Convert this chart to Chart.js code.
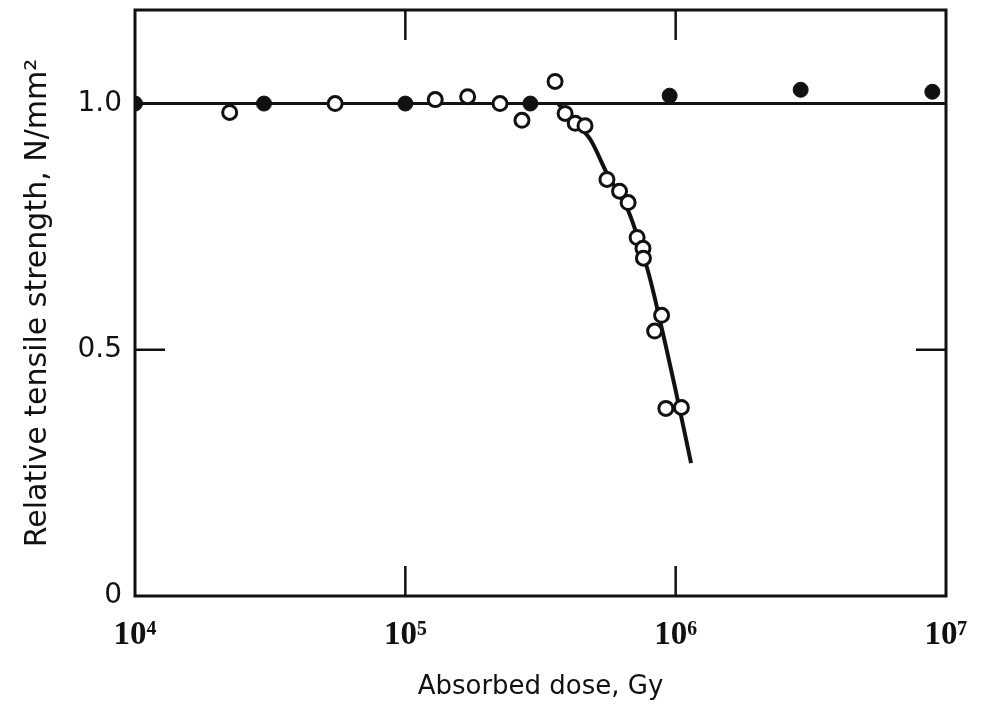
<!DOCTYPE html>
<html>
<head>
<meta charset="utf-8">
<script src="https://cdn.jsdelivr.net/npm/chart.js@4/dist/chart.umd.min.js"></script>
<style>
  body { margin: 0; background: #fff; }
  canvas { display: block; }
</style>
</head>
<body>
<canvas id="doseChart" width="991" height="715"></canvas>
<script>
// dose axis ticks and strength ticks
const doseTicks = [1e4, 1e5, 1e6, 1e7];
const doseTickLabels = ['10\u2074', '10\u2075', '10\u2076', '10\u2077'];
const strengthTicks = [0, 0.5, 1.0];
const strengthTickLabels = ['0', '0.5', '1.0'];

// closed circles
const filledDose = [1e4, 3.0e4, 1e5, 2.9e5, 9.5e5, 2.9e6, 8.9e6];
const filledStrength = [1.0, 1.0, 1.0, 1.0, 1.016, 1.028, 1.024];

// open circles
const openDose = [2.24e4, 5.5e4, 1.29e5, 1.7e5, 2.24e5, 2.7e5, 3.58e5, 3.9e5, 4.25e5, 4.62e5,
  5.57e5, 6.2e5, 6.67e5, 7.2e5, 7.57e5, 7.6e5, 8.87e5, 8.36e5, 9.2e5, 1.05e6];
const openStrength = [0.982, 1.0, 1.008, 1.014, 1.0, 0.966, 1.045, 0.98, 0.96, 0.955,
  0.846, 0.822, 0.799, 0.728, 0.706, 0.686, 0.57, 0.538, 0.381, 0.383];

// reference line and fitted curve
const flatDose = [1e4, 1e7];
const flatStrength = [1.0, 1.0];
const curveDose = [3.67e5, 4.25e5, 4.86e5, 5.57e5, 6.67e5, 7.83e5, 8.53e5, 9.94e5, 1.14e6];
const curveStrength = [1.0, 0.963, 0.925, 0.858, 0.783, 0.667, 0.586, 0.424, 0.27];

const ink = '#111';
const pts = (xs, ys) => xs.map((x, i) => ({ x: x, y: ys[i] }));

// box around the plot plus short inward ticks on all four sides
const framePlugin = {
  id: 'frame',
  beforeDatasetsDraw(chart) {
    const { ctx, chartArea: a, scales } = chart;
    ctx.save();
    ctx.strokeStyle = ink;
    ctx.lineWidth = 3;
    ctx.strokeRect(a.left, a.top, a.right - a.left, a.bottom - a.top);
    ctx.lineWidth = 2.5;
    const len = 30;
    [1e5, 1e6].forEach(v => {
      const x = scales.x.getPixelForValue(v);
      ctx.beginPath();
      ctx.moveTo(x, a.bottom); ctx.lineTo(x, a.bottom - len);
      ctx.moveTo(x, a.top); ctx.lineTo(x, a.top + len);
      ctx.stroke();
    });
    const y = scales.y.getPixelForValue(0.5);
    ctx.beginPath();
    ctx.moveTo(a.left, y); ctx.lineTo(a.left + len, y);
    ctx.moveTo(a.right, y); ctx.lineTo(a.right - len, y);
    ctx.stroke();
    ctx.restore();
  }
};

new Chart(document.getElementById('doseChart').getContext('2d'), {
  type: 'scatter',
  data: {
    datasets: [
      {
        label: 'closed',
        data: pts(filledDose, filledStrength),
        pointRadius: 7.5,
        pointBackgroundColor: ink,
        pointBorderColor: ink,
        pointBorderWidth: 1,
        order: 0
      },
      {
        label: 'open',
        data: pts(openDose, openStrength),
        pointRadius: 7,
        pointBackgroundColor: '#fff',
        pointBorderColor: ink,
        pointBorderWidth: 3,
        order: 0
      },
      {
        label: 'flat',
        type: 'line',
        data: pts(flatDose, flatStrength),
        borderColor: ink,
        borderWidth: 3,
        pointRadius: 0,
        order: 1
      },
      {
        label: 'curve',
        type: 'line',
        data: pts(curveDose, curveStrength),
        borderColor: ink,
        borderWidth: 4,
        pointRadius: 0,
        tension: 0.3,
        order: 1
      }
    ]
  },
  options: {
    responsive: false,
    animation: false,
    layout: { padding: { top: 8, right: 45, left: 0, bottom: 0 } },
    plugins: {
      legend: { display: false },
      tooltip: { enabled: false }
    },
    scales: {
      x: {
        type: 'logarithmic',
        min: 1e4,
        max: 1e7,
        afterFit: s => {
          s.height = 119;
          s.paddingLeft = 0;
          s.paddingRight = 0;
        },
        afterBuildTicks: s => { s.ticks = doseTicks.map(v => ({ value: v })); },
        grid: { display: false, drawTicks: false },
        border: { display: false },
        ticks: {
          color: ink,
          padding: 20,
          maxRotation: 0,
          autoSkip: false,
          font: { family: '"Liberation Serif", serif', size: 33, weight: 'bold' },
          callback: v => doseTickLabels[doseTicks.indexOf(v)]
        },
        title: {
          display: true,
          text: 'Absorbed dose, Gy',
          color: ink,
          font: { family: '"DejaVu Sans", sans-serif', size: 26 },
          padding: { top: 0, bottom: 12 }
        }
      },
      y: {
        min: 0,
        max: 1.19,
        afterFit: s => {
          s.width = 135;
          s.paddingTop = 0;
          s.paddingBottom = 0;
        },
        afterBuildTicks: s => { s.ticks = strengthTicks.map(v => ({ value: v })); },
        grid: { display: false, drawTicks: false },
        border: { display: false },
        ticks: {
          color: ink,
          padding: 13,
          font: { family: '"DejaVu Sans", sans-serif', size: 28 },
          callback: v => strengthTickLabels[strengthTicks.indexOf(v)]
        },
        title: {
          display: true,
          text: 'Relative tensile strength, N/mm\u00b2',
          color: ink,
          font: { family: '"DejaVu Sans", sans-serif', size: 30 },
          padding: { top: 20, bottom: 0 }
        }
      }
    }
  },
  plugins: [framePlugin]
});
</script>
</body>
</html>
